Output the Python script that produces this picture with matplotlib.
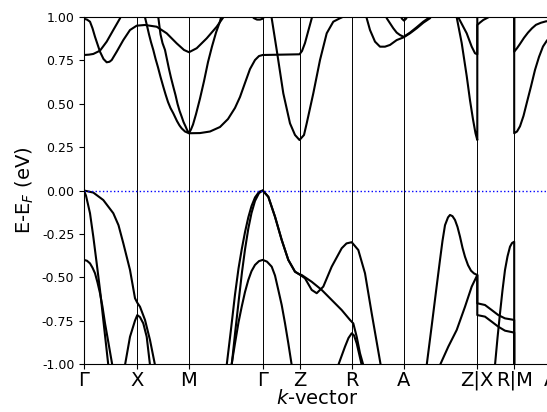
import matplotlib
matplotlib.use("Agg")
import matplotlib.pyplot as plt

# High-symmetry path (cumulative k-distance, arbitrary units)
k_ticks = [0, 53.3, 105, 178.7, 215.5, 267.7, 319.7, 393.3, 430.2, 467]
k_labels = ["Γ", "X", "M", "Γ", "Z", "R", "A", "Z|X", "R|M", "A"]

# ---- conduction bands: (k, E - E_F) ----
cb_1 = [(0, 0.781), (5, 0.783), (9.3, 0.787), (16, 0.806), (22.7, 0.858),
        (29.3, 0.925), (36, 0.992), (38, 1.02)]
cb_2 = [(0, 0.99), (3, 0.985), (6, 0.973), (8.5, 0.935), (11, 0.886), (16, 0.800),
        (19.5, 0.758), (22.7, 0.739), (25.5, 0.742), (27.7, 0.752), (32.7, 0.800),
        (39.3, 0.867), (46, 0.925), (52.7, 0.950), (61, 0.954), (72.7, 0.944),
        (82.7, 0.906), (92.7, 0.848), (100, 0.81), (105, 0.797), (112.7, 0.820),
        (122.7, 0.877), (132.7, 0.944), (139.3, 0.998), (141, 1.02)]
cb_3 = [(59, 1.05), (61, 0.998), (63, 0.95), (65, 0.90), (67, 0.855), (69.3, 0.810),
        (71.5, 0.76), (74, 0.71), (76.5, 0.655), (79.3, 0.598), (81.5, 0.555),
        (84, 0.51), (86.5, 0.475), (89.3, 0.445), (93, 0.40), (95.5, 0.375),
        (97.7, 0.358), (101, 0.34), (105, 0.330),
        (116, 0.331), (126, 0.340), (136, 0.366), (144, 0.412), (151, 0.476),
        (156, 0.539), (161, 0.620), (166, 0.700), (171, 0.752), (175, 0.775),
        (178.7, 0.781), (215.5, 0.785), (218, 0.804), (221, 0.850), (224, 0.914),
        (227, 0.977), (229, 1.02)]
cb_4 = [(73, 1.05), (74.3, 0.998), (76.5, 0.90), (78.5, 0.85), (81, 0.810),
        (83, 0.755), (85, 0.70), (87, 0.65), (89.3, 0.598), (91.5, 0.55), (93.5, 0.50),
        (95.5, 0.46), (97.7, 0.425), (99.5, 0.395), (101.5, 0.37), (103, 0.35),
        (105, 0.330), (107, 0.352), (109, 0.38), (112, 0.44), (116, 0.53), (120, 0.63),
        (124, 0.74), (128, 0.83), (132, 0.91), (136, 0.975), (138, 1.02)]
cb_5 = [(167, 1.01), (170, 0.993), (173, 0.985), (176, 0.985), (178.7, 0.99),
        (180, 1.0), (181, 1.01)]
cb_6 = [(186.5, 1.05), (187.7, 0.993), (192.7, 0.810), (199.3, 0.560), (206, 0.387),
        (211, 0.32), (215.5, 0.291), (220, 0.32), (222.7, 0.387), (229.3, 0.560),
        (236, 0.752), (242.7, 0.906), (249.3, 0.973), (256, 0.993), (261, 1.006)]
cb_7 = [(281, 1.05), (282.7, 0.993), (286, 0.925), (291, 0.858), (296, 0.829),
        (301, 0.829), (306, 0.839), (312.7, 0.867), (319.7, 0.883), (326, 0.906),
        (332.7, 0.935), (339.3, 0.967), (346, 0.993), (348, 1.01)]
cb_8 = [(301, 1.05), (302.7, 0.993), (306, 0.964), (309.3, 0.935), (312.7, 0.910),
        (316, 0.896), (319.7, 0.886), (326, 0.910), (332.7, 0.941), (339.3, 0.973),
        (344.3, 0.993), (346, 1.01)]
cb_9 = [(316, 1.01), (318, 0.99), (320, 0.979), (322, 0.99), (324, 1.01)]
cb_10 = [(371.5, 1.05), (372.7, 0.998), (377.7, 0.85), (382.7, 0.66), (386, 0.52),
         (389, 0.41), (391.5, 0.33), (393.3, 0.291), (393.3, 1.2)]
cb_11 = [(373, 1.05), (374.3, 0.998), (382.7, 0.906), (387.7, 0.829), (391, 0.791),
         (393.3, 0.785), (393.3, 0.954), (396, 0.968), (399.3, 0.983), (404.3, 0.998),
         (407, 1.01), (430.2, 1.15), (430.2, 0.330), (433, 0.34), (436, 0.37),
         (439.5, 0.43), (443, 0.51), (447, 0.60), (451, 0.695), (455, 0.77),
         (459, 0.83), (463, 0.865), (467, 0.885)]
cb_12 = [(430.2, 1.2), (430.2, 0.80), (433, 0.82), (436, 0.845), (440, 0.88),
         (444, 0.91), (448, 0.935), (452, 0.955), (457, 0.967), (462, 0.975),
         (467, 0.978)]

# ---- valence bands ----
vb_1 = [(0, 0.0), (9.3, -0.012), (19.3, -0.055), (29.3, -0.131), (34.5, -0.20),
        (39.3, -0.304), (46, -0.458), (51, -0.621), (53.3, -0.647), (56, -0.670),
        (61, -0.746), (66, -0.862), (71, -1.006), (72, -1.05)]
vb_2 = [(0, 0.0), (2, -0.03), (4, -0.08), (6, -0.131), (9.3, -0.266), (12.7, -0.42),
        (16, -0.573), (19.3, -0.746), (24.3, -1.006), (25, -1.05)]
vb_3 = [(0, -0.40), (3, -0.405), (6, -0.42), (8.5, -0.445), (11, -0.477),
        (13.5, -0.53), (16, -0.592), (18.5, -0.67), (21, -0.765), (24.5, -0.88),
        (28.3, -1.006), (29, -1.05)]
vb_4 = [(40, -1.05), (41, -1.006), (46, -0.843), (51, -0.750), (53.3, -0.718),
        (56, -0.73), (59.3, -0.766), (62.7, -0.843), (66, -1.006), (67, -1.05)]
vb_5 = [(142, -1.05), (142.7, -1.006), (147, -0.80), (151, -0.60), (154.5, -0.45),
        (157.7, -0.34), (161, -0.24), (164.3, -0.155), (167.5, -0.09), (171, -0.04),
        (175, -0.008), (178.7, 0.0), (184.3, -0.036), (191, -0.151), (197.7, -0.285),
        (204.3, -0.400), (211, -0.468), (215.3, -0.483), (221, -0.506),
        (227.7, -0.573), (232.7, -0.592), (239.3, -0.554), (247.7, -0.439),
        (257.7, -0.333), (262.5, -0.305), (267.7, -0.298), (274.3, -0.343),
        (281, -0.477), (287.7, -0.708), (296.7, -1.006), (297.5, -1.05)]
vb_6 = [(147, -1.05), (147.7, -1.006), (151.5, -0.80), (155, -0.62), (158, -0.47),
        (161, -0.34), (164.3, -0.22), (167.5, -0.13), (171, -0.06), (175, -0.015),
        (178.7, 0.0), (184.3, -0.036), (191, -0.151), (197.7, -0.285), (204.3, -0.400),
        (211, -0.468), (215.3, -0.483), (217.7, -0.487), (227.7, -0.526),
        (237.7, -0.573), (247.7, -0.631), (257.7, -0.689), (266, -0.746),
        (269.3, -0.766), (272.7, -0.843), (276, -0.938), (279.3, -1.006), (280, -1.05)]
vb_7 = [(147, -1.05), (147.5, -1.006), (151, -0.881), (154.5, -0.76), (157.7, -0.670),
        (161, -0.585), (164.3, -0.516), (167.5, -0.465), (171, -0.429), (175, -0.407),
        (178.7, -0.400), (183, -0.41), (187.7, -0.439), (191, -0.49), (194.3, -0.573),
        (197.7, -0.66), (201, -0.765), (204.3, -0.88), (207.7, -1.006), (208.5, -1.05)]
vb_8 = [(253.5, -1.05), (254.3, -1.006), (261, -0.900), (264.5, -0.85),
        (267.7, -0.823), (270, -0.835), (272.7, -0.881), (277.7, -1.006), (278.5, -1.05)]
vb_9 = [(342, -1.05), (342.7, -1.006), (347.7, -0.78), (352.7, -0.55), (356, -0.40),
        (358.5, -0.29), (361, -0.2), (364, -0.155), (366, -0.141), (368.5, -0.148),
        (371, -0.170), (373.5, -0.21), (376, -0.266), (378.5, -0.33), (381, -0.382),
        (384, -0.43), (387, -0.462), (390, -0.478), (393.3, -0.487), (393.3, -0.650),
        (401, -0.660), (407.7, -0.689), (414.3, -0.718), (421, -0.737), (430.2, -0.746),
        (430.2, -1.2)]
vb_10 = [(355, -1.05), (356, -1.006), (364.3, -0.900), (372.7, -0.804), (381, -0.670),
         (387.7, -0.554), (393.3, -0.487), (393.3, -0.718), (401, -0.727),
         (407.7, -0.756), (414.3, -0.785), (421, -0.808), (430.2, -0.819), (430.2, -1.2)]
vb_11 = [(410.5, -1.05), (411, -1.006), (413.5, -0.85), (416, -0.708), (418.5, -0.575),
         (421, -0.458), (423.5, -0.38), (426, -0.324), (428, -0.303), (430.2, -0.295),
         (430.2, -1.2)]

bands = [cb_1, cb_2, cb_3, cb_4, cb_5, cb_6, cb_7, cb_8, cb_9, cb_10, cb_11, cb_12,
         vb_1, vb_2, vb_3, vb_4, vb_5, vb_6, vb_7, vb_8, vb_9, vb_10, vb_11]

W, H = 547, 412
fig = plt.figure(figsize=(W / 100, H / 100), dpi=100)
ax = fig.add_axes([84 / W, (H - 364) / H, (551 - 84) / W, (364 - 17) / H])

for band in bands:
    ks, es = zip(*band)
    ax.plot(ks, es, color="k", lw=1.5, solid_joinstyle="round")

for kx in k_ticks:
    ax.axvline(kx, color="k", lw=0.7)
ax.axhline(0.0, color="#0000ff", lw=1.0, ls=":")

ax.set_xlim(k_ticks[0], k_ticks[-1])
ax.set_ylim(-1, 1)
ax.set_xticks(k_ticks)
ax.set_xticklabels(k_labels, fontsize=14)
ax.tick_params(axis="x", pad=1.5)
ax.set_yticks([-1.0, -0.75, -0.5, -0.25, 0.0, 0.25, 0.5, 0.75, 1.0])
ax.yaxis.set_major_formatter(matplotlib.ticker.FormatStrFormatter("%.2f"))
ax.tick_params(axis="y", labelsize=9)
ax.set_xlabel("$k$-vector", fontsize=14, labelpad=-1)
ax.set_ylabel("E-E$_F$ (eV)", fontsize=14)

fig.savefig("out.png", dpi=100)
